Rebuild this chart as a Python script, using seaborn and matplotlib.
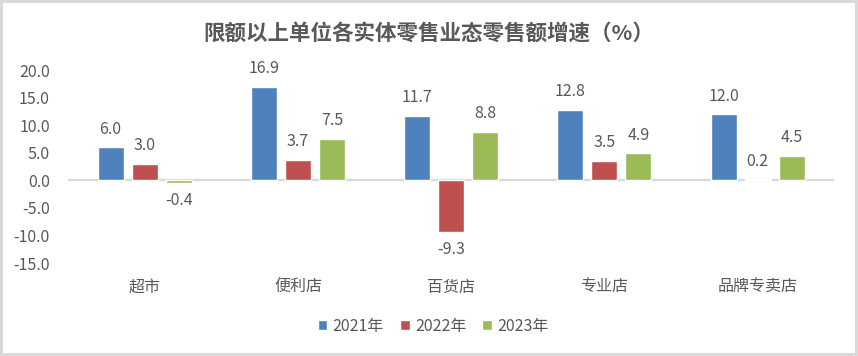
import matplotlib as mpl
mpl.use("Agg")
import matplotlib.pyplot as plt
import pandas as pd
import seaborn as sns

categories = ["超市", "便利店", "百货店", "专业店", "品牌专卖店"]
years = ["2021年", "2022年", "2023年"]
growth_2021 = [6.0, 16.9, 11.7, 12.8, 12.0]
growth_2022 = [3.0, 3.7, -9.3, 3.5, 0.2]
growth_2023 = [-0.4, 7.5, 8.8, 4.9, 4.5]
yticks = [-15, -10, -5, 0, 5, 10, 15, 20]

colors = ["#4F81BD", "#C0504D", "#9BBB59"]
text_color = "#595959"

sns.set_theme(style="white")
plt.rcParams["font.family"] = ["Noto Sans CJK SC", "DejaVu Sans"]

rows = []
for year, vals in zip(years, [growth_2021, growth_2022, growth_2023]):
    for cat, v in zip(categories, vals):
        rows.append({"业态": cat, "年份": year, "增速": v})
df = pd.DataFrame(rows)

fig = plt.figure(figsize=(8.58, 3.56), dpi=100)
ax = fig.add_axes([0.0793, 0.261, 0.893, 0.542])

sns.barplot(data=df, x="业态", y="增速", hue="年份", palette=colors,
            width=0.667, gap=0.235, saturation=1, ax=ax, legend=True)

for cont in ax.containers:
    ax.bar_label(cont, fmt="%.1f", padding=7, fontsize=11.5, color=text_color)

ax.axhline(0, color="#D9D9D9", lw=1.6, zorder=0.5)
ax.set_ylim(-15, 20)
ax.set_yticks(yticks)
ax.set_yticklabels(["%.1f" % t for t in yticks], fontsize=11.5, color=text_color)
ax.set_xlim(-0.5, len(categories) - 0.5)
ax.tick_params(axis="x", labelsize=11.5, labelcolor=text_color, length=0, pad=11)
ax.tick_params(axis="y", length=0, pad=13)
ax.set_xlabel("")
ax.set_ylabel("")
sns.despine(ax=ax, left=True, bottom=True)

handles, labels = ax.get_legend_handles_labels()
ax.legend_.remove()
fig.legend(handles, labels, loc="center", bbox_to_anchor=(0.505, 0.084), ncol=3,
           frameon=False, fontsize=11.5, labelcolor=text_color,
           handlelength=0.6, handleheight=0.6, handletextpad=0.35,
           columnspacing=1.0)

fig.suptitle("限额以上单位各实体零售业态零售额增速（%）", x=0.5, y=0.935,
             fontsize=15.5, fontweight="bold", color=text_color)

fig.patch.set_edgecolor("#D9D9D9")
fig.patch.set_linewidth(3)

fig.savefig("out.png", dpi=100)
